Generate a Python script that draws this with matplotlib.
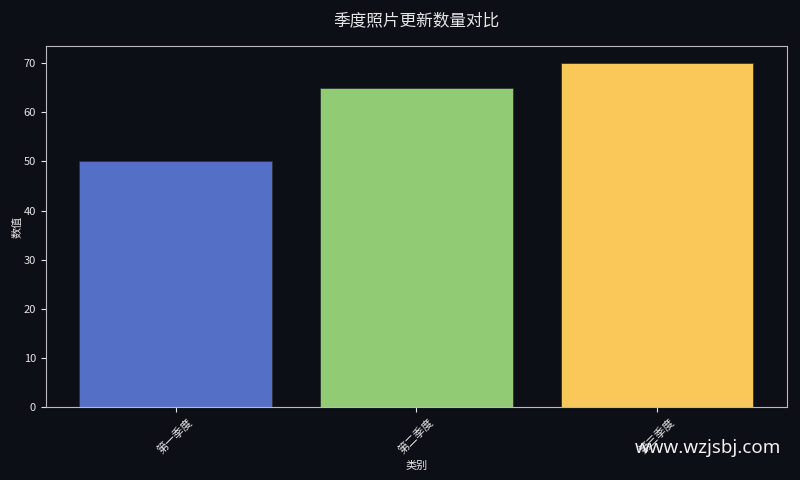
import matplotlib
matplotlib.use('Agg')
import matplotlib.pyplot as plt

plt.rcParams['font.family'] = ['Noto Sans CJK SC', 'DejaVu Sans']

categories = ['第一季度', '第二季度', '第三季度']
values = [50, 65, 70]
colors = ['#5470c6', '#91cc75', '#fac858']

bg = '#0c0f16'
fg = '#e6e6e6'

fig, ax = plt.subplots(figsize=(8, 4.8), dpi=100)
fig.patch.set_facecolor(bg)
ax.set_facecolor(bg)

ax.bar(categories, values, color=colors, width=0.8, edgecolor='#333333', linewidth=0.6)

ax.set_title('季度照片更新数量对比', color=fg, fontsize=12, pad=15)
ax.set_xlabel('类别', color=fg, fontsize=8)
ax.set_ylabel('数值', color=fg, fontsize=8, labelpad=1)
ax.tick_params(axis='both', colors=fg, labelsize=8)
plt.setp(ax.get_xticklabels(), rotation=45)
for s in ax.spines.values():
    s.set_color('#bbbbbb')

fig.subplots_adjust(left=0.057, right=0.984, top=0.904, bottom=0.152)
fig.text(0.976, 0.066, 'www.wzjsbj.com', color='#f0f0f0', fontsize=13.5,
         ha='right', va='center', family=['Noto Sans', 'DejaVu Sans'])

fig.savefig('out.png', facecolor=bg)
